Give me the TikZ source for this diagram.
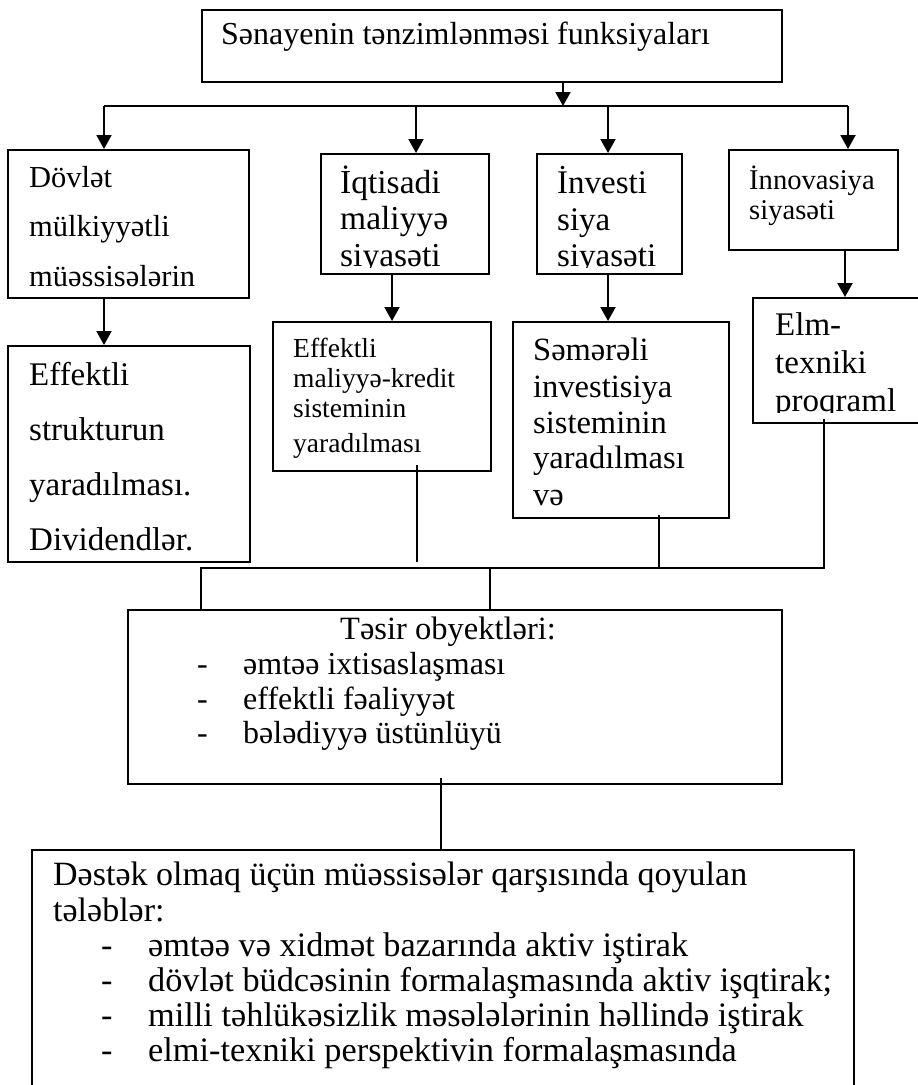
\documentclass[tikz,border=0pt]{standalone}
\usepackage{fontspec}
\setmainfont{Liberation Serif}
\usetikzlibrary{arrows.meta,calc}
\newcommand\fsz[1]{\fontsize{#1}{#1}\selectfont}
\begin{document}
\begin{tikzpicture}[x=1pt,y=-1pt,
  box/.style={draw,line width=2.2pt,anchor=north west,inner sep=0pt},
  arr/.style={line width=2pt,-{Triangle[length=14pt,width=15pt]}},
  thinln/.style={line width=1.5pt},
  tx/.style={anchor=base west,inner sep=0pt}]
\clip (0,0) rectangle (918,1085);
\fill[white] (0,0) rectangle (918,1085);

% ---------- boxes ----------
\node[box,minimum width=580pt,minimum height=72pt] (top) at (201,9) {};
\node[box,minimum width=241pt,minimum height=148pt] (A1) at (7,149) {};
\node[box,minimum width=168pt,minimum height=120pt] (B1) at (320,153) {};
\node[box,minimum width=145pt,minimum height=120pt] (C1) at (536,153) {};
\node[box,minimum width=169pt,minimum height=100pt] (D1) at (728,149) {};
\node[box,minimum width=242pt,minimum height=216pt] (A2) at (7,345) {};
\node[box,minimum width=218pt,minimum height=149pt] (B2) at (272,321) {};
\node[box,minimum width=216pt,minimum height=196pt] (C2) at (512,321) {};
\node[box,minimum width=180pt,minimum height=125pt] (D2) at (752,297) {};
\node[box,minimum width=654pt,minimum height=174pt] (E) at (127,609) {};
\node[box,minimum width=822pt,minimum height=260pt] (F) at (31,849) {};

% ---------- texts ----------
\node[tx,font=\fsz{32}] (topt) at (221,44) {Sənayenin tənzimlənməsi funksiyaları};

\foreach \t/\y [count=\i] in {Dövlət/187,mülkiyyətli/236,müəssisələrin/286}
  \node[tx,font=\fsz{30.5}] (a1t\i) at (29,\y) {\t};
\foreach \t/\y [count=\i] in {Effektli/385,strukturun/440,yaradılması./495,Dividendlər./550}
  \node[tx,font=\fsz{33}] (a2t\i) at (29,\y) {\t};

\begin{scope}
  \clip ($(B1.north west)+(0,0)$) rectangle ($(B1.south east)+(0,-8)$);
  \foreach \t/\y [count=\i] in {İqtisadi/193,maliyyə/229,siyasəti/266}
    \node[tx,font=\fsz{33.5}] (b1t\i) at (340,\y) {\t};
\end{scope}
\begin{scope}
  \clip ($(C1.north west)+(0,0)$) rectangle ($(C1.south east)+(0,-8)$);
  \foreach \t/\y [count=\i] in {İnvesti/193,siya/230,siyasəti/266}
    \node[tx,font=\fsz{33}] (c1t\i) at (557,\y) {\t};
\end{scope}
\foreach \t/\y [count=\i] in {İnnovasiya/189,siyasəti/219}
  \node[tx,font=\fsz{28.6}] (d1t\i) at (749,\y) {\t};

\foreach \t/\y [count=\i] in {Effektli/357,maliyyə-kredit/387,sisteminin/417,yaradılması/452}
  \node[tx,font=\fsz{27.5}] (b2t\i) at (293,\y) {\t};
\foreach \t/\y [count=\i] in {Səmərəli/360,investisiya/397,sisteminin/433,yaradılması/468,və/505}
  \node[tx,font=\fsz{32.5}] (c2t\i) at (533,\y) {\t};
\begin{scope}
  \clip ($(D2.north west)+(0,0)$) rectangle ($(D2.south east)+(0,-12)$);
  \foreach \t/\y [count=\i] in {Elm-/335,texniki/373,proqraml/411}
    \node[tx,font=\fsz{33}] (d2t\i) at (775,\y) {\t};
\end{scope}

\node[tx,font=\fsz{32.5}] (et0) at (340,639) {Təsir obyektləri:};
\foreach \t/\y [count=\i] in {əmtəə ixtisaslaşması/674,effektli fəaliyyət/709,bələdiyyə üstünlüyü/743}
  \node[tx,font=\fsz{32}] (et\i) at (197,\y) {\makebox[46pt][l]{-}\t};

\node[tx,font=\fsz{34}] (ft0) at (53,885) {Dəstək olmaq üçün müəssisələr qarşısında qoyulan};
\node[tx,font=\fsz{34}] (ft00) at (53,921) {tələblər:};
\foreach \t/\y [count=\i] in {əmtəə və xidmət bazarında aktiv iştirak/956,dövlət büdcəsinin formalaşmasında aktiv işqtirak;/991,milli təhlükəsizlik məsələlərinin həllində iştirak/1026,elmi-texniki perspektivin formalaşmasında/1061}
  \node[tx,font=\fsz{34.3}] (ft\i) at (101,\y) {\makebox[47pt][l]{-}\t};

% ---------- connectors ----------
\coordinate (j0) at (563,106);
\coordinate (jL) at (104,106);
\coordinate (jB) at (416,106);
\coordinate (jC) at (608,106);
\coordinate (jR) at (848,106);
\draw[arr] (top.south -| j0) -- (j0);
\draw[line width=2pt] (jL) -- (jR);
\draw[arr] (jL) -- (jL |- A1.north);
\draw[arr] (jB) -- (jB |- B1.north);
\draw[arr] (jC) -- (jC |- C1.north);
\draw[arr] (jR) -- (jR |- D1.north);

\coordinate (xB) at (392,0);
\coordinate (xD) at (845,0);
\draw[arr] (A1.south -| jL) -- (A2.north -| jL);
\draw[arr] (B1.south -| xB) -- (B2.north -| xB);
\draw[arr] (C1.south -| jC) -- (C2.north -| jC);
\draw[arr] (D1.south -| xD) -- (D2.north -| xD);

\coordinate (bB) at (417,562);
\coordinate (h1) at (201,568);
\coordinate (h2) at (490,568);
\coordinate (hC) at (659,568);
\coordinate (hD) at (824,568);
\coordinate (xE) at (441,0);
\draw[thinln] ($(B2.south -| bB)+(0,-7)$) -- (bB);
\draw[thinln] ($(D2.south -| hD)+(0,-5)$) -- (hD) -- (h1) -- (h1 |- E.north);
\draw[thinln] (h2) -- (h2 |- E.north);
\draw[thinln] ($(C2.south -| hC)+(0,-4)$) -- (hC);
\draw[thinln] ($(E.south -| xE)+(0,-7)$) -- (F.north -| xE);
\end{tikzpicture}
\end{document}
